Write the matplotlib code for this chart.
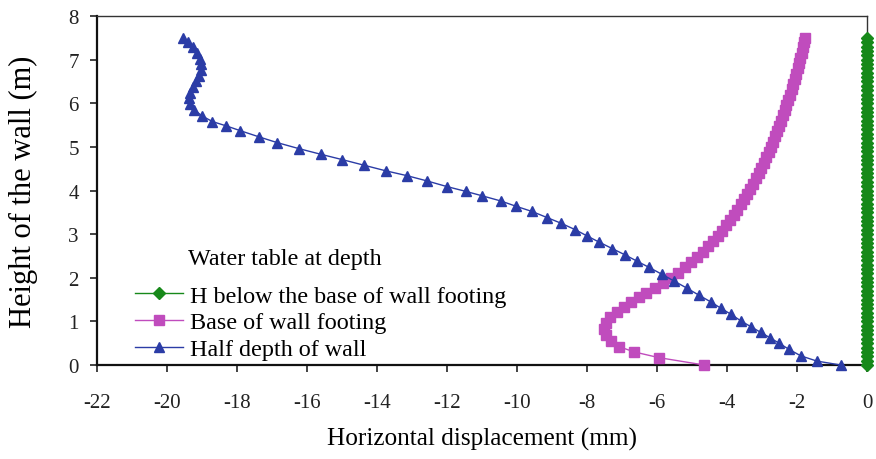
import matplotlib
matplotlib.use("Agg")
import matplotlib.pyplot as plt

# Wall deflection profiles for three water-table positions
# (horizontal displacement in mm vs. height along the wall in m)

half_depth_disp = [
    -0.75, -1.43, -1.89, -2.23, -2.51, -2.76, -3.04, -3.32, -3.60, -3.88,
    -4.17, -4.47, -4.80, -5.14, -5.50, -5.86, -6.23, -6.57, -6.90, -7.28,
    -7.66, -8.00, -8.33, -8.74, -9.14, -9.57, -10.03, -10.46, -11.00, -11.46,
    -12.00, -12.57, -13.14, -13.74, -14.37, -15.00, -15.60, -16.23, -16.86, -17.37,
    -17.90, -18.30, -18.70, -19.00, -19.22, -19.35, -19.38, -19.33, -19.25, -19.16,
    -19.08, -19.03, -19.02, -19.06, -19.15, -19.27, -19.40, -19.55,
]
half_depth_height = [
    0.00, 0.09, 0.21, 0.36, 0.50, 0.62, 0.75, 0.88, 1.01, 1.16,
    1.30, 1.45, 1.60, 1.76, 1.92, 2.08, 2.24, 2.38, 2.52, 2.67,
    2.82, 2.96, 3.10, 3.25, 3.38, 3.52, 3.64, 3.76, 3.88, 3.98,
    4.09, 4.22, 4.34, 4.45, 4.58, 4.71, 4.83, 4.96, 5.10, 5.23,
    5.37, 5.48, 5.58, 5.71, 5.85, 5.98, 6.11, 6.24, 6.37, 6.50,
    6.63, 6.76, 6.89, 7.02, 7.15, 7.28, 7.40, 7.50,
]

base_disp = [
    -4.65, -5.95, -6.65, -7.08, -7.32, -7.47, -7.52, -7.47, -7.33, -7.15,
    -6.95, -6.74, -6.52, -6.30, -6.06, -5.83, -5.60, -5.40, -5.20, -5.02,
    -4.85, -4.69, -4.54, -4.40, -4.27, -4.14, -4.02, -3.91, -3.80, -3.70,
    -3.60, -3.51, -3.42, -3.33, -3.25, -3.17, -3.09, -3.02, -2.95, -2.88,
    -2.81, -2.75, -2.69, -2.63, -2.57, -2.51, -2.46, -2.40, -2.35, -2.30,
    -2.25, -2.20, -2.15, -2.11, -2.06, -2.02, -1.98, -1.94, -1.90, -1.86,
    -1.83, -1.80, -1.78,
]
base_height = [
    0.00, 0.17, 0.30, 0.42, 0.55, 0.69, 0.83, 0.96, 1.09, 1.21,
    1.33, 1.44, 1.55, 1.65, 1.76, 1.88, 2.00, 2.12, 2.24, 2.36,
    2.48, 2.60, 2.72, 2.84, 2.96, 3.08, 3.20, 3.32, 3.44, 3.56,
    3.68, 3.80, 3.92, 4.04, 4.16, 4.28, 4.40, 4.52, 4.64, 4.76,
    4.88, 5.00, 5.12, 5.24, 5.36, 5.48, 5.60, 5.72, 5.84, 5.96,
    6.08, 6.20, 6.32, 6.44, 6.56, 6.68, 6.80, 6.92, 7.04, 7.16,
    7.28, 7.40, 7.50,
]

below_height = [
    0.0, 0.1, 0.2, 0.3, 0.4, 0.5, 0.6, 0.7, 0.8, 0.9,
    1.0, 1.1, 1.2, 1.3, 1.4, 1.5, 1.6, 1.7, 1.8, 1.9,
    2.0, 2.1, 2.2, 2.3, 2.4, 2.5, 2.6, 2.7, 2.8, 2.9,
    3.0, 3.1, 3.2, 3.3, 3.4, 3.5, 3.6, 3.7, 3.8, 3.9,
    4.0, 4.1, 4.2, 4.3, 4.4, 4.5, 4.6, 4.7, 4.8, 4.9,
    5.0, 5.1, 5.2, 5.3, 5.4, 5.5, 5.6, 5.7, 5.8, 5.9,
    6.0, 6.1, 6.2, 6.3, 6.4, 6.5, 6.6, 6.7, 6.8, 6.9,
    7.0, 7.1, 7.2, 7.3, 7.4, 7.5,
]
below_disp = [0.0] * len(below_height)

series_labels = [
    "H below the base of wall footing",
    "Base of wall footing",
    "Half depth of wall",
]
legend_title = "Water table at depth"
x_ticks = [-22, -20, -18, -16, -14, -12, -10, -8, -6, -4, -2, 0]
y_ticks = [0, 1, 2, 3, 4, 5, 6, 7, 8]

GREEN = "#17891a"
MAGENTA = "#c04cbd"
BLUE = "#2b3ca6"

plt.rcParams["font.family"] = ["Liberation Serif", "DejaVu Serif"]

fig = plt.figure(figsize=(8.76, 4.60), dpi=100)
ax = fig.add_axes([0.1107, 0.2043, 0.8790, 0.7587])

ax.plot(below_disp, below_height, color=GREEN, lw=1.0, marker="D",
        ms=6, mec=GREEN, mfc=GREEN, label=series_labels[0], zorder=3,
        clip_on=False)
ax.plot(base_disp, base_height, color=MAGENTA, lw=1.0, marker="s",
        ms=6.5, mec=MAGENTA, mfc=MAGENTA, label=series_labels[1], zorder=3,
        clip_on=False)
ax.plot(half_depth_disp, half_depth_height, color=BLUE, lw=1.0, marker="^",
        ms=7, mec=BLUE, mfc=BLUE, label=series_labels[2], zorder=4,
        clip_on=False)

ax.set_xlim(-22, 0)
ax.set_ylim(0, 8)
ax.set_xticks(x_ticks)
ax.set_yticks(y_ticks)
ax.set_xticklabels([str(t) for t in x_ticks])
ax.tick_params(axis="both", direction="out", length=5, width=1.2,
               labelsize=15, colors="#222222")
ax.tick_params(axis="x", pad=15.5)
ax.tick_params(axis="y", pad=8)

for side in ("left", "bottom"):
    ax.spines[side].set_linewidth(1.6)
    ax.spines[side].set_color("#111111")
for side in ("top", "right"):
    ax.spines[side].set_linewidth(1.0)
    ax.spines[side].set_color("#333333")

ax.set_xlabel("Horizontal displacement (mm)", fontsize=18.2)
ax.xaxis.set_label_coords(0.5, -0.176)
ax.set_ylabel("Height of the wall (m)", fontsize=22)
ax.yaxis.set_label_coords(-0.076, 0.5)

handles, labels = ax.get_legend_handles_labels()
leg = ax.legend(handles, labels, loc="lower left",
                bbox_to_anchor=(0.049, 0.014), frameon=False,
                fontsize=17.4, handlelength=2.0, handletextpad=0.3,
                labelspacing=0.2, borderpad=0, borderaxespad=0)
ax.text(0.118, 0.305, legend_title, transform=ax.transAxes,
        fontsize=17.4, ha="left", va="center")

fig.savefig("out.png", dpi=100, facecolor="white")
